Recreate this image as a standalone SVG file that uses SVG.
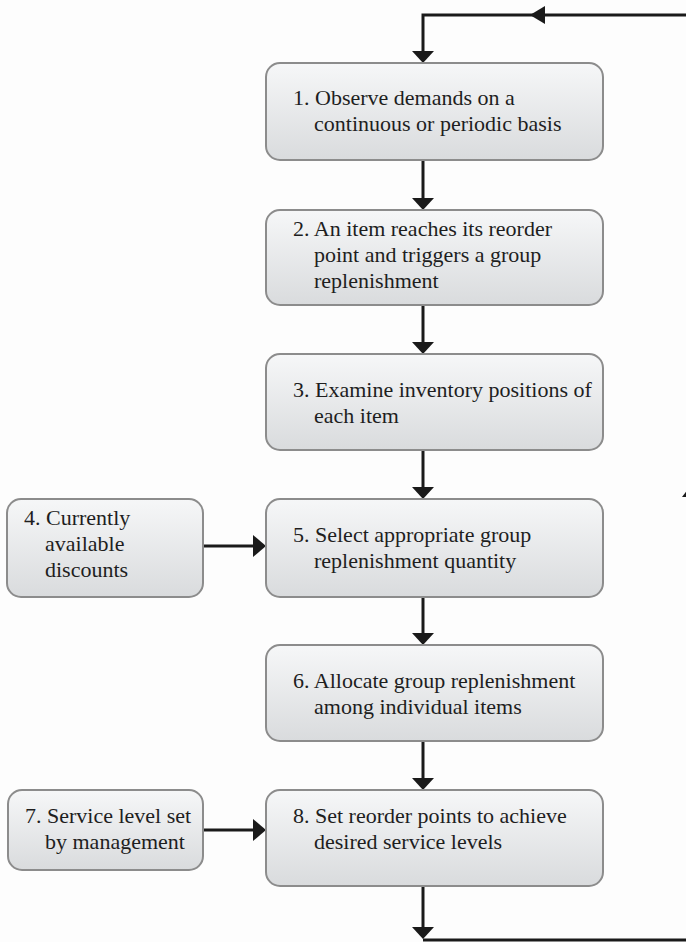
<svg xmlns="http://www.w3.org/2000/svg" width="686" height="942" viewBox="0 0 686 942">
<style>
.box{fill:url(#g);stroke:#8c8c8c;stroke-width:2}
.t{font-family:"Liberation Serif","Times New Roman",serif;font-size:22px;fill:#1e1e1e}
.c{stroke:#1a1a1a;stroke-width:3;fill:none}
.h{fill:#1a1a1a}
</style>
<defs>
<linearGradient id="g" x1="0" y1="0" x2="0" y2="1">
<stop offset="0" stop-color="#f6f7f8"/>
<stop offset="1" stop-color="#d9dbdd"/>
</linearGradient>
</defs>
<rect width="686" height="942" fill="#fdfdfd"/>
<g id="connectors">
<path class="c" d="M690 15 H423 V52"/>
<polygon class="h" points="530,15 545,6 545,24"/>
<polygon class="h" points="412,51 434,51 423,63"/>
<line class="c" x1="423" y1="160" x2="423" y2="199"/>
<polygon class="h" points="412,198 434,198 423,210"/>
<line class="c" x1="423" y1="305" x2="423" y2="343"/>
<polygon class="h" points="412,342 434,342 423,354"/>
<line class="c" x1="423" y1="450" x2="423" y2="488"/>
<polygon class="h" points="412,487 434,487 423,499"/>
<line class="c" x1="423" y1="597" x2="423" y2="634"/>
<polygon class="h" points="412,633 434,633 423,645"/>
<line class="c" x1="423" y1="741" x2="423" y2="779"/>
<polygon class="h" points="412,778 434,778 423,790"/>
<line class="c" x1="203" y1="546" x2="254" y2="546"/>
<polygon class="h" points="253,535 253,557 266,546"/>
<line class="c" x1="203" y1="830" x2="254" y2="830"/>
<polygon class="h" points="253,819 253,841 266,830"/>
<line class="c" x1="423" y1="886" x2="423" y2="928"/>
<polygon class="h" points="412,927 434,927 423,939"/>
<line class="c" x1="423" y1="940" x2="690" y2="940"/>
<polygon class="h" points="682,497 692,484 702,497"/>
</g>
<g id="n1"><rect class="box" x="266" y="63" width="337" height="97" rx="14"/>
<text class="t" x="293" y="105">1. Observe demands on a</text>
<text class="t" x="314" y="131">continuous or periodic basis</text></g>
<g id="n2"><rect class="box" x="266" y="210" width="337" height="95" rx="14"/>
<text class="t" x="293" y="236">2. An item reaches its reorder</text>
<text class="t" x="314" y="262">point and triggers a group</text>
<text class="t" x="314" y="288">replenishment</text></g>
<g id="n3"><rect class="box" x="266" y="354" width="337" height="96" rx="14"/>
<text class="t" x="293" y="397">3. Examine inventory positions of</text>
<text class="t" x="314" y="423">each item</text></g>
<g id="n4"><rect class="box" x="7" y="499" width="196" height="98" rx="14"/>
<text class="t" x="24" y="525">4. Currently</text>
<text class="t" x="45" y="551">available</text>
<text class="t" x="45" y="577">discounts</text></g>
<g id="n5"><rect class="box" x="266" y="499" width="337" height="98" rx="14"/>
<text class="t" x="293" y="542">5. Select appropriate group</text>
<text class="t" x="314" y="568">replenishment quantity</text></g>
<g id="n6"><rect class="box" x="266" y="645" width="337" height="96" rx="14"/>
<text class="t" x="293" y="688">6. Allocate group replenishment</text>
<text class="t" x="314" y="714">among individual items</text></g>
<g id="n7"><rect class="box" x="8" y="790" width="195" height="80" rx="14"/>
<text class="t" x="25" y="823">7. Service level set</text>
<text class="t" x="45" y="849">by management</text></g>
<g id="n8"><rect class="box" x="266" y="790" width="337" height="96" rx="14"/>
<text class="t" x="293" y="823">8. Set reorder points to achieve</text>
<text class="t" x="314" y="849">desired service levels</text></g>
</svg>
